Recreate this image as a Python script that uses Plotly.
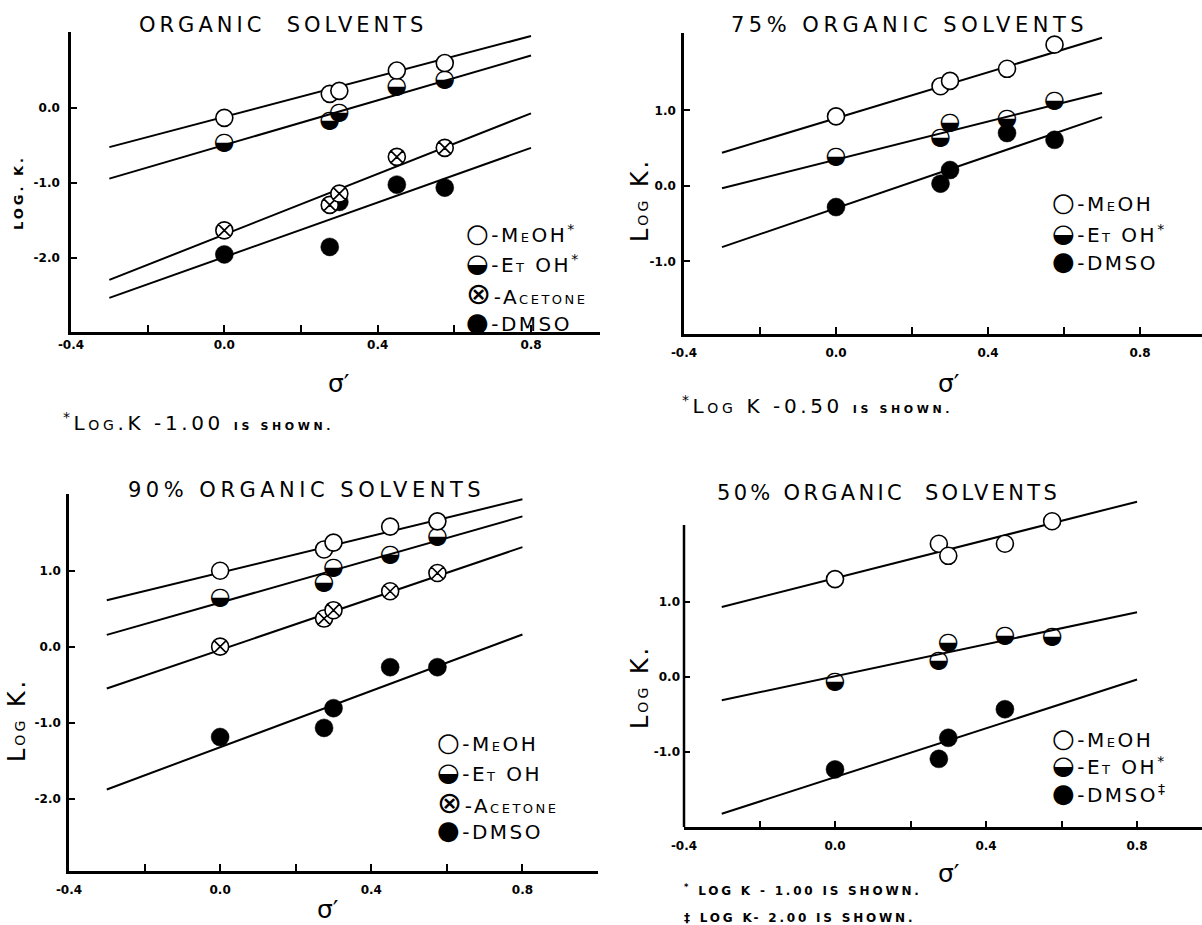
import plotly.graph_objects as go

W, H = 1202, 925

# ---------------- data ----------------
sigma = [0.0, 0.275, 0.30, 0.45, 0.575]
fit_x_long = [-0.3, 0.8]
fit_x_short = [-0.3, 0.7]

# "Organic solvents" (MeOH, EtOH shown as log K - 1.00)
org_meoh = [-0.13, 0.19, 0.23, 0.50, 0.60]
org_etoh = [-0.46, -0.17, -0.06, 0.28, 0.37]
org_acetone = [-1.63, -1.29, -1.14, -0.65, -0.53]
org_dmso = [-1.95, -1.85, -1.25, -1.02, -1.06]
org_meoh_fit = [-0.52, 0.96]
org_etoh_fit = [-0.94, 0.70]
org_acetone_fit = [-2.29, -0.07]
org_dmso_fit = [-2.53, -0.53]

# 75 % organic solvents (EtOH shown as log K - 0.50)
p75_meoh = [0.92, 1.32, 1.39, 1.55, 1.87]
p75_etoh = [0.38, 0.63, 0.83, 0.88, 1.12]
p75_dmso = [-0.28, 0.03, 0.21, 0.70, 0.61]
p75_meoh_fit = [0.44, 1.96]
p75_etoh_fit = [-0.03, 1.23]
p75_dmso_fit = [-0.81, 0.91]

# 90 % organic solvents
p90_meoh = [1.00, 1.28, 1.37, 1.58, 1.65]
p90_etoh = [0.64, 0.84, 1.03, 1.21, 1.44]
p90_acetone = [0.00, 0.37, 0.48, 0.73, 0.97]
p90_dmso = [-1.19, -1.07, -0.81, -0.27, -0.27]
p90_meoh_fit = [0.61, 1.94]
p90_etoh_fit = [0.155, 1.715]
p90_acetone_fit = [-0.55, 1.31]
p90_dmso_fit = [-1.88, 0.16]

# 50 % organic solvents (EtOH: log K - 1.00, DMSO: log K - 2.00)
p50_meoh = [1.30, 1.77, 1.61, 1.77, 2.07]
p50_etoh = [-0.07, 0.21, 0.45, 0.55, 0.53]
p50_sigma_dmso = [0.0, 0.275, 0.30, 0.45]
p50_dmso = [-1.23, -1.09, -0.81, -0.43]
p50_meoh_fit = [0.93, 2.33]
p50_etoh_fit = [-0.31, 0.86]
p50_dmso_fit = [-1.82, -0.035]

x_tickvals = [-0.4, 0.0, 0.4, 0.8]
x_ticktext = ["-0.4", "0.0", "0.4", "0.8"]

# ---------------- layout helpers ----------------
def xd(l, r):
    return [l / W, r / W]

def yd(top, bottom):
    return [1 - bottom / H, 1 - top / H]

FONT = "DejaVu Sans"
fig = go.Figure()

panels = {
    1: dict(xdom=xd(71, 600), ydom=yd(32.3, 331.7), xr=[-0.4, 0.98], yr=[-2.98, 1.01],
            yt=[-2.0, -1.0, 0.0], ytt=["-2.0", "-1.0", "0.0"], stand=6, xstand=0),
    2: dict(xdom=xd(684, 1202), ydom=yd(33.3, 334), xr=[-0.4, 0.963], yr=[-1.96, 2.02],
            yt=[-1.0, 0.0, 1.0], ytt=["-1.0", "0.0", "1.0"], stand=3, xstand=6),
    3: dict(xdom=xd(69, 598), ydom=yd(494, 870.7), xr=[-0.4, 1.0], yr=[-2.95, 2.01],
            yt=[-2.0, -1.0, 0.0, 1.0], ytt=["-2.0", "-1.0", "0.0", "1.0"], stand=3, xstand=6),
    4: dict(xdom=xd(684, 1202), ydom=yd(496.4, 827.3), xr=[-0.4, 0.972], yr=[-2.0, 2.4],
            yt=[-1.0, 0.0, 1.0], ytt=["-1.0", "0.0", "1.0"], stand=3, xstand=6),
}

for k, p in panels.items():
    sx = "" if k == 1 else str(k)
    fig.layout["xaxis" + sx] = dict(
        domain=p["xdom"], range=p["xr"], anchor="y" + sx, showgrid=False, zeroline=False,
        showline=True, linecolor="black", linewidth=2.5, ticks="inside", ticklen=7,
        tickwidth=1.5, tickcolor="black", tickvals=x_tickvals, ticktext=x_ticktext,
        minor=dict(ticks="inside", ticklen=7, tickwidth=1.5, tickcolor="black",
                   tick0=0.0, dtick=0.2, showgrid=False),
        tickfont=dict(family=FONT, size=12, color="black", weight="bold"),
        ticklabelstandoff=p["xstand"], automargin=False, fixedrange=True)
    fig.layout["yaxis" + sx] = dict(
        domain=p["ydom"], range=p["yr"], anchor="x" + sx, showgrid=False, zeroline=False,
        showline=(k != 4), linecolor="black", linewidth=2.5, ticks="inside", ticklen=6,
        tickwidth=1.5, tickcolor="black", tickvals=p["yt"], ticktext=p["ytt"],
        tickfont=dict(family=FONT, size=12, color="black", weight="bold"),
        ticklabelstandoff=p["stand"], automargin=False, fixedrange=True)

# y axis line of panel 4 stops at 2.02 (fit line runs above it)
fig.add_shape(type="line", xref="x4 domain", yref="y4", x0=0, x1=0, y0=-2.0, y1=2.02,
              line=dict(color="black", width=2.5))

LINE = dict(color="black", width=2)
MS = 17

def fit(k, xs, ys):
    sx = "" if k == 1 else str(k)
    fig.add_trace(go.Scatter(x=xs, y=ys, mode="lines", line=LINE, xaxis="x" + sx,
                             yaxis="y" + sx, showlegend=False, hoverinfo="skip"))

def pts(k, xs, ys, kind):
    sx = "" if k == 1 else str(k)
    common = dict(x=xs, y=ys, xaxis="x" + sx, yaxis="y" + sx, showlegend=False,
                  cliponaxis=False)
    if kind == "open":
        fig.add_trace(go.Scatter(mode="markers", marker=dict(symbol="circle", size=MS,
                      color="white", line=dict(color="black", width=1.6)), **common))
    elif kind == "x":
        fig.add_trace(go.Scatter(mode="markers", marker=dict(symbol="circle-x", size=MS,
                      color="white", line=dict(color="black", width=1.6)), **common))
    elif kind == "fill":
        fig.add_trace(go.Scatter(mode="markers", marker=dict(symbol="circle", size=MS + 1,
                      color="black", line=dict(color="black", width=0.5)), **common))
    elif kind == "half":
        fig.add_trace(go.Scatter(mode="text", text=["\u25D2"] * len(xs),
                      textposition="middle center",
                      textfont=dict(family=FONT, size=24, color="black"), **common))

# panel 1
fit(1, fit_x_long, org_meoh_fit); fit(1, fit_x_long, org_etoh_fit)
fit(1, fit_x_long, org_acetone_fit); fit(1, fit_x_long, org_dmso_fit)
pts(1, sigma, org_dmso, "fill"); pts(1, sigma, org_acetone, "x")
pts(1, sigma, org_etoh, "half"); pts(1, sigma, org_meoh, "open")
# panel 2
fit(2, fit_x_short, p75_meoh_fit); fit(2, fit_x_short, p75_etoh_fit); fit(2, fit_x_short, p75_dmso_fit)
pts(2, sigma, p75_dmso, "fill"); pts(2, sigma, p75_etoh, "half"); pts(2, sigma, p75_meoh, "open")
# panel 3
fit(3, fit_x_long, p90_meoh_fit); fit(3, fit_x_long, p90_etoh_fit)
fit(3, fit_x_long, p90_acetone_fit); fit(3, fit_x_long, p90_dmso_fit)
pts(3, sigma, p90_dmso, "fill"); pts(3, sigma, p90_acetone, "x")
pts(3, sigma, p90_etoh, "half"); pts(3, sigma, p90_meoh, "open")
# panel 4
fit(4, fit_x_long, p50_meoh_fit); fit(4, fit_x_long, p50_etoh_fit); fit(4, fit_x_long, p50_dmso_fit)
pts(4, p50_sigma_dmso, p50_dmso, "fill"); pts(4, sigma, p50_etoh, "half"); pts(4, sigma, p50_meoh, "open")

# ---------------- text ----------------
def txt(x, y, s, size=18, xanchor="center", angle=0, weight="normal", ls=None):
    if ls is not None:
        s = "<span style='letter-spacing:%spx'>%s</span>" % (ls, s)
    fig.add_annotation(x=x / W, y=1 - y / H, xref="paper", yref="paper", text=s,
                       showarrow=False, xanchor=xanchor, yanchor="middle", textangle=angle,
                       font=dict(family=FONT, size=size, color="black", weight=weight))

# titles
txt(283, 25, "ORGANIC&nbsp;&nbsp;SOLVENTS", 21, ls=4)
txt(909, 25, "75% ORGANIC SOLVENTS", 21, ls=4.5)
txt(306, 490, "90% ORGANIC SOLVENTS", 21, ls=4.5)
txt(888, 493, "50% ORGANIC&nbsp;&nbsp;SOLVENTS", 21, ls=3.3)

# y titles
txt(19, 193, "LOG. K.", 13, angle=-90, weight="bold", ls=3)
SC = "<span style='font-size:14px'>%s</span>"
logk = "L" + SC % "OG" + " K."
txt(640, 200, logk, 24, angle=-90, ls=3)
txt(17, 720, logk, 24, angle=-90, ls=3)
txt(640, 687, logk, 24, angle=-90, ls=3)

# x titles
for (x, y) in [(339, 383), (949, 383), (328, 909), (949, 873)]:
    txt(x, y, "σ′", 25)

# footnotes
SB = "<span style='font-size:11px;font-weight:bold'>%s</span>"
txt(61, 422, "<sup>*</sup>L" + SC % "OG" + ".K -1.00 " + SB % "IS SHOWN.", 20, xanchor="left", ls=3.6)
txt(680, 405, "<sup>*</sup>L" + SC % "OG" + " K -0.50 " + SB % "IS SHOWN.", 20, xanchor="left", ls=3.6)
txt(682, 890, "<sup>*</sup> LOG K - 1.00 IS SHOWN.", 12, xanchor="left", weight="bold", ls=2.8)
txt(682, 918, "‡ LOG K- 2.00 IS SHOWN.", 12, xanchor="left", weight="bold", ls=2.8)

# legends
G = "<span style='font-size:%dpx'>%s</span>"
S2 = "<span style='font-size:13px'>%s</span>"
meoh = "M" + S2 % "E" + "OH"
etoh = "E" + S2 % "T" + " OH"
acet = "A" + S2 % "CETONE"
dmso = "DMSO"
GS = {"○": 26, "◒": 26, "⊗": 30, "●": 26}

def legend(x, ys, items):
    for y, (g, lab) in zip(ys, items):
        txt(x - 11, y, G % (GS[g], g) + "-" + lab, 20, xanchor="left", ls=2.5)

legend(475, [233, 263, 293, 322], [("○", meoh + "<sup>*</sup>"), ("◒", etoh + "<sup>*</sup>"),
                                   ("⊗", acet), ("●", dmso)])
legend(1061, [202, 233, 261], [("○", meoh), ("◒", etoh + "<sup>*</sup>"), ("●", dmso)])
legend(446, [742, 772, 802, 830], [("○", meoh), ("◒", etoh), ("⊗", acet), ("●", dmso)])
legend(1061, [738, 765, 793], [("○", meoh), ("◒", etoh + "<sup>*</sup>"), ("●", dmso + "<sup>‡</sup>")])

fig.update_layout(width=W, height=H, margin=dict(l=0, r=0, t=0, b=0, autoexpand=False),
                  paper_bgcolor="white", plot_bgcolor="white", showlegend=False)

fig.write_html("out.html", config={"displayModeBar": False},
               post_script="document.body.style.margin='0';document.body.style.overflow='hidden';")
